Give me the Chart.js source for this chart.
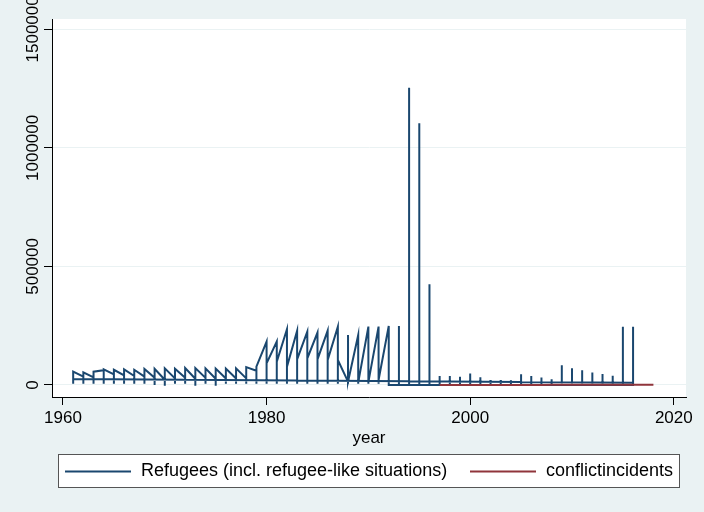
<!DOCTYPE html>
<html>
<head>
<meta charset="utf-8">
<script src="https://cdn.jsdelivr.net/npm/chart.js@4.4.1/dist/chart.umd.min.js"></script>
<style>
  html, body { margin: 0; padding: 0; background: #eaf2f3; }
  canvas { display: block; }
</style>
</head>
<body>
<canvas id="chart" width="704" height="512"></canvas>
<script>
'use strict';

// refugee rows, in the order they are plotted (the line follows the row order)
const refugeeYears = [
    1961, 1961, 1961,  1962, 1962, 1962,  1963, 1963, 1963,  1964, 1964, 1964,
    1965, 1965, 1965,  1966, 1966, 1966,  1967, 1967, 1967,  1968, 1968, 1968,
    1969, 1969, 1969,  1970, 1970, 1970,  1971, 1971, 1971,  1972, 1972, 1972,
    1973, 1973, 1973,  1974, 1974, 1974,  1975, 1975, 1975,  1976, 1976, 1976,
    1977, 1977, 1977,  1978, 1978, 1978,  1979, 1979, 1979,  1980, 1980, 1980,
    1981, 1981, 1981,  1982, 1982, 1982,  1983, 1983, 1983,  1984, 1984, 1984,
    1985, 1985, 1985,  1986, 1986, 1986,  1987, 1987, 1987,  1988, 1988, 1988, 1988,
    1989, 1989, 1989,  1990, 1990, 1990,  1991, 1991, 1991,  1992, 1992,
    1993, 1993, 1993,  1994, 1994, 1994,  1995, 1995, 1995,  1996, 1996, 1996,
    1997, 1997, 1997,  1998, 1998, 1998,  1999, 1999, 1999,  2000, 2000, 2000,
    2001, 2001, 2001,  2002, 2002, 2002,  2003, 2003, 2003,  2004, 2004, 2004,
    2005, 2005, 2005,  2006, 2006, 2006,  2007, 2007, 2007,  2008, 2008, 2008,
    2009, 2009, 2009,  2010, 2010, 2010,  2011, 2011, 2011,  2012, 2012, 2012,
    2013, 2013, 2013,  2014, 2014, 2014,  2015, 2015, 2015,  2016, 2016, 2016, 2016,
    1961
];
const refugeeValues = [
    30000, 5000, 56000,   35000, 5000, 53000,   32000, 5000, 56000,   62000, 5000, 66000,
    45000, 5000, 64000,   40000, 5000, 66000,   38000, 5000, 64000,   35000, 5000, 67000,
    30000, 0, 68000,      22000, -3000, 70000,  28000, 5000, 68000,   30000, 5000, 71000,
    26000, -3000, 71000,  30000, 5000, 70000,   26000, -3000, 69000,  27000, 5000, 69000,
    27000, 5000, 70000,   28000, 5000, 75000,   60000, 5000, 77000,   183000, 5000, 91000,
    183000, 5000, 98000,  235000, 5000, 77000,  229000, 5000, 108000, 225000, 5000, 112000,
    221000, 5000, 108000, 229000, 5000, 105000, 246000, 5000, 105000, 14000, 211000, 5000, 14000,
    211000, 5000, 10000,  246000, 5000, 12000,  246000, 5000, 21000,  249000, 0,
    0, 249000, 0,         0, 1254000, 0,        0, 1104000, 0,        0, 425000, 0,
    0, 38000, 0,          0, 38000, 0,          0, 34000, 0,          0, 48000, 0,
    0, 32000, 0,          0, 21000, 0,          0, 21000, 0,          0, 20000, 0,
    0, 45000, 0,          0, 38000, 0,          0, 31000, 0,          0, 24000, 0,
    0, 83000, 0,          0, 70000, 0,          0, 62000, 0,          0, 52000, 0,
    0, 46000, 0,          0, 39000, 0,          0, 245000, 0,         0, 245000, 0, 9000,
    25000
];

const conflictYears = [1997, 1998, 1999, 2000, 2001, 2002, 2003, 2004, 2005, 2006, 2007,
                       2008, 2009, 2010, 2011, 2012, 2013, 2014, 2015, 2016, 2017, 2018];
const conflictValues = [40, 65, 80, 120, 95, 60, 75, 110, 140, 180, 210,
                        260, 300, 420, 380, 450, 520, 610, 700, 820, 900, 760];

const seriesLabels = ['Refugees (incl. refugee-like situations)', 'conflictincidents'];
const xTicks = [1960, 1980, 2000, 2020];
const yTicks = [0, 500000, 1000000, 1500000];

const NAVY = '#1a476f';
const MAROON = '#90353b';
const BG = '#eaf2f3';
const FONT = '"Liberation Sans", Arial, sans-serif';

const background = {
    id: 'background',
    beforeDraw(chart) {
        const { ctx, chartArea: a } = chart;
        ctx.save();
        ctx.fillStyle = BG;
        ctx.fillRect(0, 0, chart.width, chart.height);
        ctx.fillStyle = '#ffffff';
        ctx.fillRect(a.left, a.top, a.right - a.left, a.bottom - a.top);
        ctx.restore();
    }
};

// stata writes the y labels turned on their side
const yLabels = {
    id: 'yLabels',
    afterDraw(chart) {
        const ctx = chart.ctx;
        const scale = chart.scales.y;
        ctx.save();
        ctx.font = '17px ' + FONT;
        ctx.fillStyle = '#000';
        ctx.textAlign = 'center';
        ctx.textBaseline = 'alphabetic';
        scale.ticks.forEach(t => {
            const py = scale.getPixelForValue(t.value);
            ctx.save();
            ctx.translate(38, py);
            ctx.rotate(-Math.PI / 2);
            ctx.fillText(String(t.value), 0, 0);
            ctx.restore();
        });
        ctx.restore();
    }
};

const boxLegend = {
    id: 'boxLegend',
    afterDraw(chart) {
        const ctx = chart.ctx;
        const sets = chart.data.datasets;
        const box = { x: 58, y: 454, w: 621, h: 33 };
        const slots = [65, 470];
        ctx.save();
        ctx.fillStyle = '#ffffff';
        ctx.fillRect(box.x, box.y, box.w, box.h);
        ctx.strokeStyle = '#555';
        ctx.lineWidth = 1;
        ctx.strokeRect(box.x + 0.5, box.y + 0.5, box.w, box.h);
        ctx.font = '18px ' + FONT;
        ctx.textBaseline = 'middle';
        ctx.fillStyle = '#000';
        const cy = box.y + box.h / 2 + 1;
        sets.forEach((ds, i) => {
            const x0 = slots[i];
            ctx.strokeStyle = ds.borderColor;
            ctx.lineWidth = 2;
            ctx.beginPath();
            ctx.moveTo(x0, cy);
            ctx.lineTo(x0 + 66, cy);
            ctx.stroke();
            ctx.fillText(ds.label, x0 + 76, cy);
        });
        ctx.restore();
    }
};

new Chart(document.getElementById('chart'), {
    type: 'line',
    data: {
        datasets: [{
            label: seriesLabels[0],
            data: refugeeYears.map((yr, i) => ({ x: yr, y: refugeeValues[i] })),
            borderColor: NAVY,
            borderWidth: 2,
            pointRadius: 0,
            tension: 0,
            order: 1
        }, {
            label: seriesLabels[1],
            data: conflictYears.map((yr, i) => ({ x: yr, y: conflictValues[i] })),
            borderColor: MAROON,
            borderWidth: 2,
            pointRadius: 0,
            tension: 0,
            order: 0
        }]
    },
    options: {
        responsive: false,
        animation: false,
        layout: { padding: { left: 0, right: 18, top: 19, bottom: 55 } },
        plugins: {
            legend: { display: false },
            tooltip: { enabled: false }
        },
        scales: {
            x: {
                type: 'linear',
                min: 1958.92,
                max: 2021.2,
                afterBuildTicks: s => { s.ticks = xTicks.map(v => ({ value: v })); },
                afterFit: s => { s.height = 60; },
                grid: { display: true, drawOnChartArea: false, drawTicks: true, tickLength: 8, tickColor: '#000' },
                border: { display: true, color: '#000', width: 1 },
                ticks: {
                    color: '#000',
                    font: { family: FONT, size: 17 },
                    padding: 3,
                    maxRotation: 0,
                    callback: v => String(v)
                },
                title: { display: true, text: 'year', color: '#000', font: { family: FONT, size: 17 }, padding: { top: 0, bottom: 8 } }
            },
            y: {
                type: 'linear',
                min: -50900,
                max: 1543700,
                afterBuildTicks: s => { s.ticks = yTicks.map(v => ({ value: v })); },
                afterFit: s => { s.width = 52; },
                grid: { display: true, color: BG, lineWidth: 1, drawTicks: true, tickLength: 8, tickColor: '#000' },
                border: { display: true, color: '#000', width: 1 },
                ticks: { display: false }
            }
        }
    },
    plugins: [background, yLabels, boxLegend]
});
</script>
</body>
</html>
